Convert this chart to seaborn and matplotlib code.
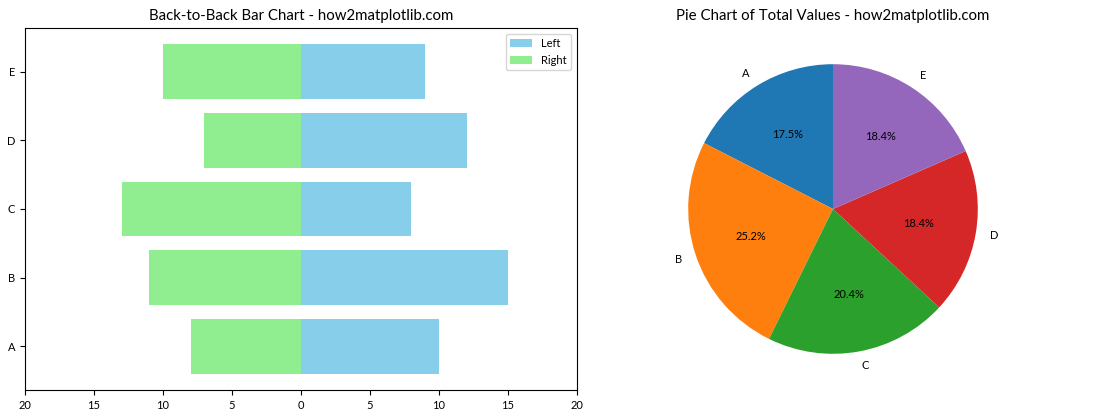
import matplotlib
matplotlib.use("Agg")
import matplotlib.pyplot as plt
from matplotlib.ticker import FuncFormatter, MultipleLocator
import seaborn as sns
import numpy as np

categories = ["A", "B", "C", "D", "E"]
left_values = [10, 15, 8, 12, 9]
right_values = [8, 11, 13, 7, 10]
totals = [l + r for l, r in zip(left_values, right_values)]

plt.rcParams["font.family"] = ["Lato", "DejaVu Sans"]

fig = plt.figure(figsize=(11.2, 4.2), dpi=100)
ax1 = fig.add_axes([25 / 1120, 30 / 420, 552 / 1120, 362 / 420])
ax2 = fig.add_axes([650.5 / 1120, 30 / 420, 365 / 1120, 362 / 420])

order = categories[::-1]
sns.barplot(x=left_values, y=categories, order=order, color="skyblue",
            saturation=1, label="Left", ax=ax1, orient="h")
sns.barplot(x=[-v for v in right_values], y=categories, order=order,
            color="lightgreen", saturation=1, label="Right", ax=ax1, orient="h")
ax1.set_xlim(-20, 20)
ax1.set_ylim(4.64, -0.64)
ax1.xaxis.set_major_locator(MultipleLocator(5))
ax1.xaxis.set_major_formatter(FuncFormatter(lambda x, p: f"{abs(int(round(x)))}"))
ax1.tick_params(labelsize=8)
ax1.set_xlabel("")
ax1.set_ylabel("")
ax1.set_title("Back-to-Back Bar Chart - how2matplotlib.com", fontsize=10.8)
ax1.legend(loc="upper right", fontsize=8)

ax2.pie(totals, labels=categories, autopct="%1.1f%%", startangle=90,
        colors=sns.color_palette("tab10", 5),
        textprops={"fontsize": 8})
ax2.set_title("Pie Chart of Total Values - how2matplotlib.com", fontsize=10.8)

fig.savefig("out.png", dpi=100)
